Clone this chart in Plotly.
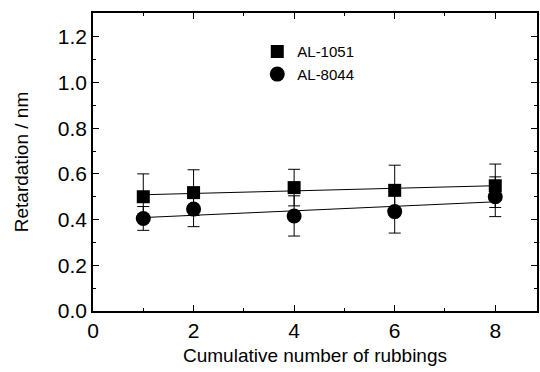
import numpy as np
import plotly.graph_objects as go

rubbings = [1, 2, 4, 6, 8]
al1051 = [0.500, 0.518, 0.540, 0.528, 0.548]
al1051_err = [0.100, 0.100, 0.080, 0.110, 0.095]
al8044 = [0.405, 0.446, 0.416, 0.435, 0.500]
al8044_err = [0.052, 0.077, 0.088, 0.094, 0.087]

x_ticks = [0, 2, 4, 6, 8]
y_ticks = [0.0, 0.2, 0.4, 0.6, 0.8, 1.0, 1.2]

FONT = "Liberation Sans, Arial, sans-serif"

fig = go.Figure()

xs = np.array(rubbings, dtype=float)
fit_x = np.array([xs.min(), xs.max()])
for ys in (al1051, al8044):
    k, b = np.polyfit(xs, np.array(ys), 1)
    fig.add_trace(go.Scatter(x=fit_x, y=k * fit_x + b, mode="lines",
                             line=dict(color="black", width=1),
                             showlegend=False, hoverinfo="skip"))

fig.add_trace(go.Scatter(
    x=rubbings, y=al1051, mode="markers", name="AL-1051",
    marker=dict(symbol="square", size=13, color="black"),
    error_y=dict(type="data", array=al1051_err, color="black", thickness=1, width=6),
))
fig.add_trace(go.Scatter(
    x=rubbings, y=al8044, mode="markers", name="AL-8044",
    marker=dict(symbol="circle", size=15, color="black"),
    error_y=dict(type="data", array=al8044_err, color="black", thickness=1, width=6),
))

axis_common = dict(
    showgrid=False, zeroline=False, showline=True, linecolor="black", linewidth=1.5,
    mirror="allticks", ticks="inside", ticklen=6, tickwidth=1, tickcolor="black",
    tickfont=dict(family=FONT, size=21, color="black"),
)

fig.update_layout(
    width=540, height=372,
    margin=dict(l=93, r=1, t=13, b=61),
    paper_bgcolor="white", plot_bgcolor="white",
    font=dict(family=FONT, color="black"),
    xaxis=dict(
        range=[0, 8.83], tickvals=x_ticks, ticktext=[str(v) for v in x_ticks],
        minor=dict(dtick=1, ticks="inside", ticklen=3, tickcolor="black"),
        title=dict(text="Cumulative number of rubbings", font=dict(family=FONT, size=19), standoff=8),
        **axis_common,
    ),
    yaxis=dict(
        range=[0, 1.304], tickvals=y_ticks, ticktext=[f"{v:.1f}" for v in y_ticks],
        minor=dict(dtick=0.1, ticks="inside", ticklen=3, tickcolor="black"),
        title=dict(text="Retardation / nm", font=dict(family=FONT, size=19), standoff=24),
        **axis_common,
    ),
    legend=dict(
        x=0.37, y=0.925, xanchor="left", yanchor="top",
        bgcolor="rgba(0,0,0,0)", font=dict(family=FONT, size=15, color="black"),
        itemwidth=30, tracegroupgap=0,
    ),
)

fig.write_html("out.html")
